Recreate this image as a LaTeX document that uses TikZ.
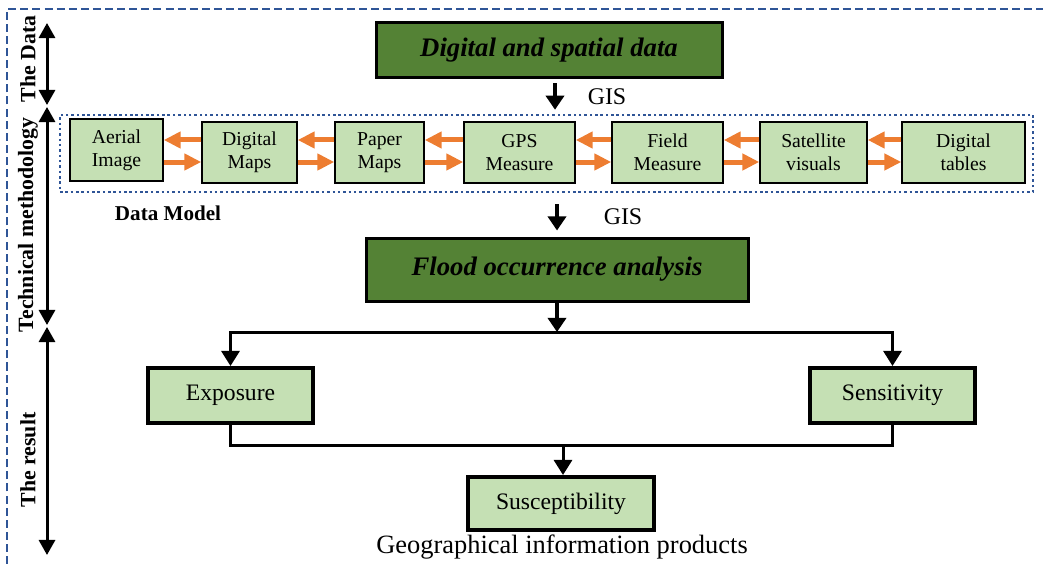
\documentclass[tikz,border=0pt]{standalone}
\usepackage{fontspec}
\setmainfont{Liberation Serif}
\usetikzlibrary{arrows.meta}

\definecolor{darkgreen}{HTML}{548235}
\definecolor{lightgreen}{HTML}{C5E0B4}
\definecolor{orangeline}{HTML}{ED7D31}
\definecolor{frameblue}{HTML}{2F5597}
\newdimen\px \px=0.025cm

\tikzset{
  titlebox/.style={draw=black, line width=3\px, fill=darkgreen, inner sep=0pt,
    font=\fontsize{19}{22}\selectfont\bfseries\itshape},
  smallbox/.style={draw=black, line width=1.5\px, fill=lightgreen, inner sep=0pt,
    align=center, font=\fontsize{14}{16.4}\selectfont},
  resultbox/.style={draw=black, line width=4\px, fill=lightgreen, inner sep=0pt,
    font=\fontsize{16.8}{20}\selectfont},
  sidelabel/.style={rotate=90, font=\fontsize{15.5}{18}\selectfont\bfseries},
  orangearrow/.style={draw=orangeline, line width=5\px, -{Triangle[length=12pt, width=11.4pt]}},
  gisarrow/.style={line width=4\px, -{Triangle[length=10pt, width=12.8pt]}},
  conn/.style={line width=3\px},
  connarrow/.style={line width=3\px, -{Triangle[length=10.7pt, width=12.8pt]}},
  sidearrow/.style={line width=3\px, {Triangle[length=10.7pt, width=11.4pt]}-{Triangle[length=10.7pt, width=11.4pt]}}
}

\begin{document}
\begin{tikzpicture}[x=\px, y=-\px]
  \useasboundingbox (0,0) rectangle (1043,564);

  % frame
  \draw [frameblue, line width=2\px, dash pattern=on 5.7pt off 2.9pt] (7,564) -- (7,9) -- (1043,9);

  % side labels
  \coordinate (d1) at (47,23);   \coordinate (d2) at (47,105);
  \coordinate (t1) at (47,107);  \coordinate (t2) at (47,325);
  \coordinate (r1) at (47,327);  \coordinate (r2) at (47,555);
  \draw [sidearrow] (d1) -- (d2);
  \draw [sidearrow] (t1) -- (t2);
  \draw [sidearrow] (r1) -- (r2);
  \node [sidelabel] (thedata) at (28,59) {The Data};
  \node [sidelabel] (technical) at (28,225) {Technical methodology};
  \node [sidelabel] (theresult) at (28,460) {The result};

  % data
  \node [titlebox, minimum width=346\px, minimum height=55\px] (data) at (549,50.5) {Digital and spatial data};
  \node [font=\fontsize{17}{20}\selectfont] (gis1) at (607,97) {GIS};

  \node [draw=frameblue, line width=2.5\px, dash pattern=on 1.8pt off 2pt,
         minimum width=973\px, minimum height=77\px] (model) at (546.5,153.5) {};
  \node [smallbox, minimum width=93\px, minimum height=62\px] (aerial) at (116.5,150) {Aerial\\Image};
  \node [smallbox, minimum width=95\px, minimum height=61\px] (digmaps) at (249.5,152.5) {Digital\\Maps};
  \node [smallbox, minimum width=89\px, minimum height=61\px] (paper) at (379.5,152.5) {Paper\\Maps};
  \node [smallbox, minimum width=111\px, minimum height=61\px] (gps) at (519.5,152.5) {GPS\\Measure};
  \node [smallbox, minimum width=111\px, minimum height=61\px] (field) at (667.5,152.5) {Field\\Measure};
  \node [smallbox, minimum width=107\px, minimum height=61\px] (satellite) at (813.5,152.5) {Satellite\\visuals};
  \node [smallbox, minimum width=123\px, minimum height=61\px] (tables) at (963.5,152.5) {Digital\\tables};
  \node [font=\fontsize{15}{18}\selectfont\bfseries] (datamodel) at (168,213) {Data Model};

  \foreach \a/\b in {aerial/digmaps, digmaps/paper, paper/gps, gps/field, field/satellite, satellite/tables} {
    \draw [orangearrow] (\b.west |- 0,140) -- (\a.east |- 0,140);
    \draw [orangearrow] (\a.east |- 0,162) -- (\b.west |- 0,162);
  }

  \draw [gisarrow, shorten <=4\px, shorten >=4\px] (data.south -| 555,0) -- (model.north -| 555,0);

  % analysis
  \node [titlebox, minimum width=382\px, minimum height=63\px] (flood) at (557,269.5) {Flood occurrence analysis};
  \node [font=\fontsize{17}{20}\selectfont] (gis2) at (623,217) {GIS};
  \draw [gisarrow, shorten <=11\px, shorten >=6\px] (model.south -| 557,0) -- (flood.north);

  % result
  \node [resultbox, minimum width=165\px, minimum height=55\px] (expo) at (230.5,395.5) {Exposure};
  \node [resultbox, minimum width=165\px, minimum height=55\px] (sens) at (892.5,395.5) {Sensitivity};
  \node [resultbox, minimum width=186\px, minimum height=53\px] (susc) at (561,503.5) {Susceptibility};
  \node [font=\fontsize{18.8}{22}\selectfont] (products) at (562,547) {Geographical information products};

  \coordinate (split) at (557,332);
  \coordinate (merge) at (563,445);
  \draw [gisarrow] (flood.south) -- (split);
  \draw [connarrow] (split) -| (expo.north);
  \draw [connarrow] (split) -| (sens.north);
  \draw [conn] (expo.south) |- (merge);
  \draw [conn] (sens.south) |- (merge);
  \draw [connarrow] (merge) -- (merge |- susc.north);
\end{tikzpicture}
\end{document}
